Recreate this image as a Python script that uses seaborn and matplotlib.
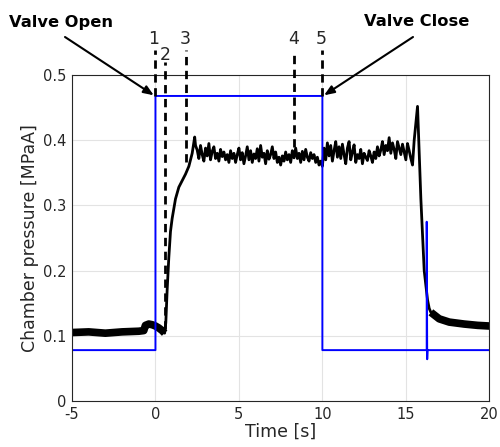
import matplotlib
matplotlib.use("Agg")
import matplotlib.pyplot as plt
import seaborn as sns
import pandas as pd
import numpy as np

# ---- data ----
valve_t = [-5, 0, 0, 10, 10, 16.25, 16.25, 16.28, 16.30, 20]
valve_p = [0.078, 0.078, 0.468, 0.468, 0.078, 0.078, 0.275, 0.064, 0.078, 0.078]

pre_t = [-5, -4, -3, -2, -1, -0.7, -0.6, -0.4, -0.2, 0.0, 0.2, 0.4, 0.55]
pre_p = [0.105, 0.106, 0.104, 0.106, 0.107, 0.108, 0.116, 0.118, 0.117, 0.115, 0.112, 0.108, 0.104]

rise_t = [0.55, 0.62, 0.7, 0.8, 0.9, 1.0, 1.2, 1.4, 1.6, 1.8, 2.0, 2.2, 2.35, 2.4]
rise_p = [0.104, 0.12, 0.17, 0.22, 0.26, 0.28, 0.31, 0.328, 0.338, 0.348, 0.36, 0.38, 0.405, 0.392]

plateau_p = [
    0.385, 0.372, 0.392, 0.378, 0.368, 0.388, 0.376, 0.395, 0.370, 0.383,
    0.390, 0.372, 0.380, 0.368, 0.386, 0.375, 0.382, 0.370, 0.378, 0.366,
    0.384, 0.372, 0.380, 0.366, 0.378, 0.388, 0.370, 0.381, 0.364, 0.376,
    0.390, 0.370, 0.384, 0.366, 0.379, 0.372, 0.387, 0.368, 0.392, 0.374,
    0.380, 0.364, 0.384, 0.371, 0.378, 0.390, 0.372, 0.382, 0.366, 0.374,
    0.362, 0.376, 0.368, 0.382, 0.370, 0.378, 0.366, 0.384, 0.373, 0.388,
    0.372, 0.380, 0.366, 0.383, 0.370, 0.386, 0.374, 0.368, 0.381, 0.372,
    0.378, 0.366, 0.374, 0.362, 0.368, 0.360,
    0.388, 0.370, 0.396, 0.376, 0.392, 0.368, 0.384, 0.398, 0.374, 0.390,
    0.372, 0.394, 0.378, 0.364, 0.388, 0.398, 0.370, 0.382, 0.393, 0.366,
    0.378, 0.372, 0.386, 0.364, 0.380, 0.374, 0.369, 0.384, 0.376, 0.366,
    0.382, 0.372, 0.390, 0.376, 0.385, 0.398, 0.378, 0.392, 0.384, 0.404,
    0.380, 0.396, 0.386, 0.372, 0.398, 0.388, 0.378, 0.394, 0.382, 0.370,
    0.395, 0.384, 0.372, 0.362, 0.400,
]
plateau_t = [round(2.5 + 0.1 * i, 2) for i in range(len(plateau_p))]

fall_t = [15.7, 15.8, 15.9, 16.1, 16.3, 16.4, 16.5]
fall_p = [0.452, 0.38, 0.31, 0.20, 0.155, 0.142, 0.136]

tail_t = [16.5, 17.0, 17.6, 18.5, 19.3, 20.0]
tail_p = [0.136, 0.126, 0.121, 0.118, 0.116, 0.115]

marker_t = [0.0, 0.56, 1.8, 8.3, 10.0]
marker_bottom = [0.468, 0.11, 0.367, 0.39, 0.468]
marker_top = [0.538, 0.52, 0.538, 0.538, 0.538]
marker_labels = ["1", "2", "3", "4", "5"]
marker_label_t = [-0.1, 0.6, 1.8, 8.3, 9.9]
marker_label_y = [0.555, 0.531, 0.556, 0.556, 0.556]

xticks = [-5, 0, 5, 10, 15, 20]
yticks = [0, 0.1, 0.2, 0.3, 0.4, 0.5]

# ---- style ----
sns.set_theme(style="whitegrid")
plt.rcParams["font.family"] = ["DejaVu Sans"]
plt.rcParams["axes.unicode_minus"] = False

fig = plt.figure(figsize=(5.0, 4.47), dpi=100)
ax = fig.add_axes([0.144, 0.103, 0.8346, 0.729])

main_t = rise_t + plateau_t + fall_t
main_p = rise_p + plateau_p + fall_p

df_valve = pd.DataFrame({"t": valve_t, "p": valve_p})
df_pre = pd.DataFrame({"t": pre_t, "p": pre_p})
df_main = pd.DataFrame({"t": main_t, "p": main_p})
df_tail = pd.DataFrame({"t": tail_t, "p": tail_p})

sns.lineplot(data=df_pre, x="t", y="p", ax=ax, color="black", lw=5.5,
             sort=False, estimator=None, solid_capstyle="butt")
sns.lineplot(data=df_tail, x="t", y="p", ax=ax, color="black", lw=5.5,
             sort=False, estimator=None, solid_capstyle="butt")
sns.lineplot(data=df_main, x="t", y="p", ax=ax, color="black", lw=2.0,
             sort=False, estimator=None)
sns.lineplot(data=df_valve, x="t", y="p", ax=ax, color="#0000ff", lw=1.4,
             sort=False, estimator=None)

for t, b, top in zip(marker_t, marker_bottom, marker_top):
    ax.plot([t, t], [b, top], color="black", lw=2.0, linestyle=(0, (3, 2)),
            clip_on=False, zorder=5)
for lab, t, y in zip(marker_labels, marker_label_t, marker_label_y):
    ax.text(t, y, lab, ha="center", va="center", fontsize=12.5,
            color="#262626", clip_on=False)

ax.set_xlim(-5, 20)
ax.set_ylim(0, 0.5)
ax.set_xticks(xticks)
ax.set_yticks(yticks)
ax.set_xticklabels([str(v) for v in xticks])
ax.set_yticklabels(["0", "0.1", "0.2", "0.3", "0.4", "0.5"])
ax.tick_params(axis="both", labelsize=10.5, colors="#262626", length=0, pad=4)
ax.grid(True, color="#e3e3e3", lw=0.8)
for s in ax.spines.values():
    s.set_color("#262626")
    s.set_linewidth(0.8)
ax.set_xlabel("Time [s]", fontsize=12.5, color="#262626", labelpad=1)
ax.set_ylabel("Chamber pressure [MPaA]", fontsize=12.5, color="#262626", labelpad=3)

# annotations
fig.text(9 / 500, 1 - 22 / 447, "Valve Open", fontsize=11.7, fontweight="bold",
         ha="left", va="center", color="black")
fig.text(469 / 500, 1 - 22 / 447, "Valve Close", fontsize=11.7, fontweight="bold",
         ha="right", va="center", color="black")
ax.annotate("", xy=(-0.1, 0.469), xycoords="data",
            xytext=(65, 447 - 37), textcoords="figure pixels",
            arrowprops=dict(arrowstyle="-|>,head_length=0.5,head_width=0.2",
                            color="black", lw=1.5, shrinkA=0, shrinkB=0),
            annotation_clip=False)
ax.annotate("", xy=(10.1, 0.469), xycoords="data",
            xytext=(413, 447 - 37), textcoords="figure pixels",
            arrowprops=dict(arrowstyle="-|>,head_length=0.5,head_width=0.2",
                            color="black", lw=1.5, shrinkA=0, shrinkB=0),
            annotation_clip=False)

fig.savefig("out.png", dpi=100)
